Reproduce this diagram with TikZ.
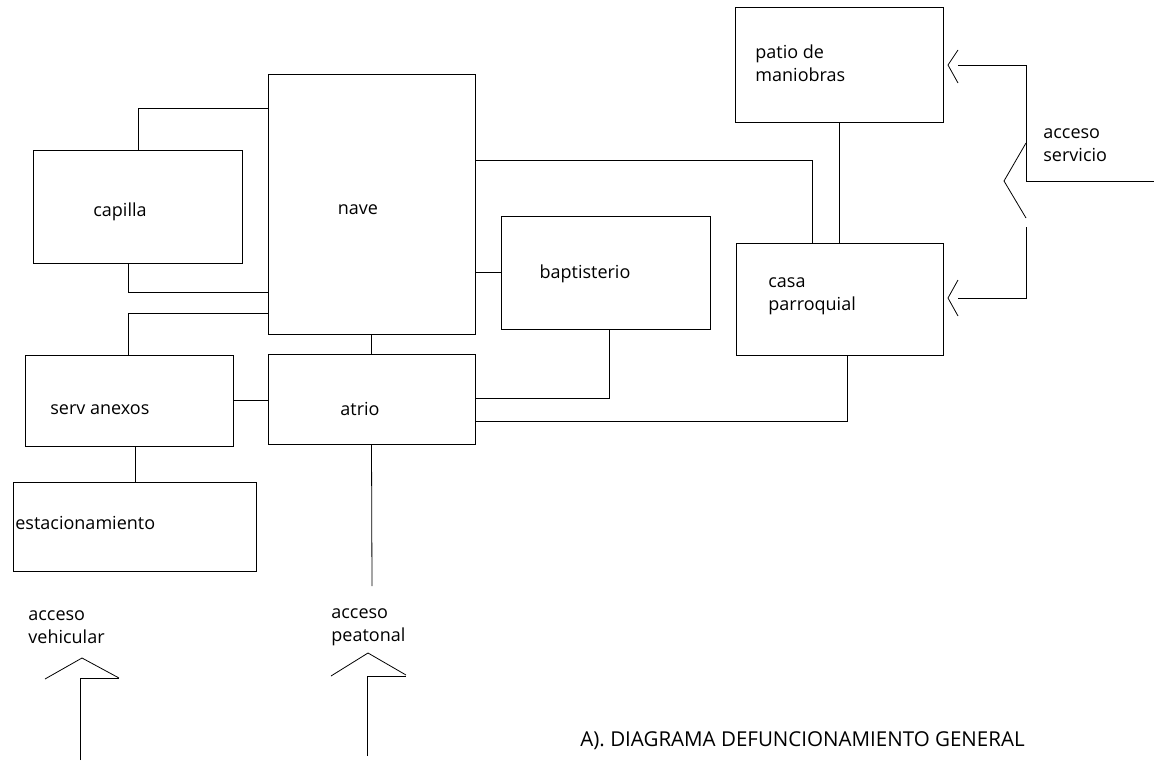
\documentclass[tikz,border=0pt]{standalone}
\usepackage{fontspec}
\setmainfont{Open Sans}
\begin{document}
\begin{tikzpicture}[x=0.75pt, y=-0.75pt, line width=0.6pt,
    area/.style 2 args={draw, inner sep=0pt, minimum width=#1*0.75pt, minimum height=#2*0.75pt},
    lbl/.style={inner sep=0pt, align=left, font=\fontsize{13.5}{17}\selectfont},
    ttl/.style={inner sep=0pt, font=\fontsize{15.4}{18}\selectfont}]
    \useasboundingbox (0,0) rectangle (1154,761);

    % zones
    \node[area={208}{115}] (patio) at (839,64.5) {};
    \node[area={207}{260}] (nave) at (371.5,204) {};
    \node[area={209}{113}] (capilla) at (137.5,206.5) {};
    \node[area={209}{113}] (bapt) at (605.5,272.5) {};
    \node[area={207}{112}] (casa) at (839.5,299) {};
    \node[area={208}{91}] (serv) at (129,400.5) {};
    \node[area={207}{90}] (atrio) at (371.5,399) {};
    \node[area={243}{89}] (estac) at (134.5,526.5) {};

    % names
    \node[lbl, anchor=west] (t-patio) at (755,63.5) {patio de\\maniobras};
    \node[lbl] (t-capilla) at (120,212) {capilla};
    \node[lbl] (t-nave) at (358,210) {nave};
    \node[lbl] (t-bapt) at (585,274) {baptisterio};
    \node[lbl, anchor=west] (t-casa) at (768,296) {casa\\parroquial};
    \node[lbl, anchor=west] (t-serv) at (50,410) {serv anexos};
    \node[lbl] (t-atrio) at (360,409) {atrio};
    \node[lbl, anchor=west] (t-estac) at (15,523) {estacionamiento};
    \node[lbl, anchor=west] (t-veh) at (28,627) {acceso\\vehicular};
    \node[lbl, anchor=west] (t-peat) at (331,627) {acceso\\peatonal};
    \node[lbl, anchor=west] (t-serv2) at (1043,145) {acceso\\servicio};
    \node[ttl, anchor=west] (title) at (580,741) {A). DIAGRAMA DEFUNCIONAMIENTO GENERAL};

    % links
    \draw (capilla.north -| 138,0) |- (nave.west |- 0,108);
    \draw (capilla.south -| 128,0) |- (nave.west |- 0,292);
    \draw (serv.north -| 128,0) |- (nave.west |- 0,313);
    \draw (nave.south) -- (atrio.north);
    \draw (serv.east) -- (serv.east -| atrio.west);
    \draw (serv.south -| 135,0) -- (estac.north -| 135,0);
    \draw (nave.east |- bapt.west) -- (bapt.west);
    \draw (bapt.south -| 609,0) |- (atrio.east |- 0,398);
    \draw (casa.south -| 847,0) |- (atrio.east |- 0,421);
    \draw (nave.east |- 0,160) -| (casa.north -| 812,0);
    \draw (patio.south) -- (casa.north -| patio.south);

    % accesos
    \coordinate (peat) at (372,586);
    \draw (atrio.south) -- (peat);
    \draw (45,679) -- (82,658) -- (119,678);
    \draw (80,760) |- (119,678);
    \draw (331,676) -- (368,653) -- (406,675);
    \draw (367,756) |- (406,676);
    \draw (1154,181) -- (1026,181);
    \draw (1026,143) -- (1004,181) -- (1026,218);
    \draw (1026,181) |- (958,65);
    \draw (958,50) -- (948,65) -- (958,83);
    \draw (1026,227) |- (958,298);
    \draw (958,280) -- (948,298) -- (958,316);
\end{tikzpicture}
\end{document}
